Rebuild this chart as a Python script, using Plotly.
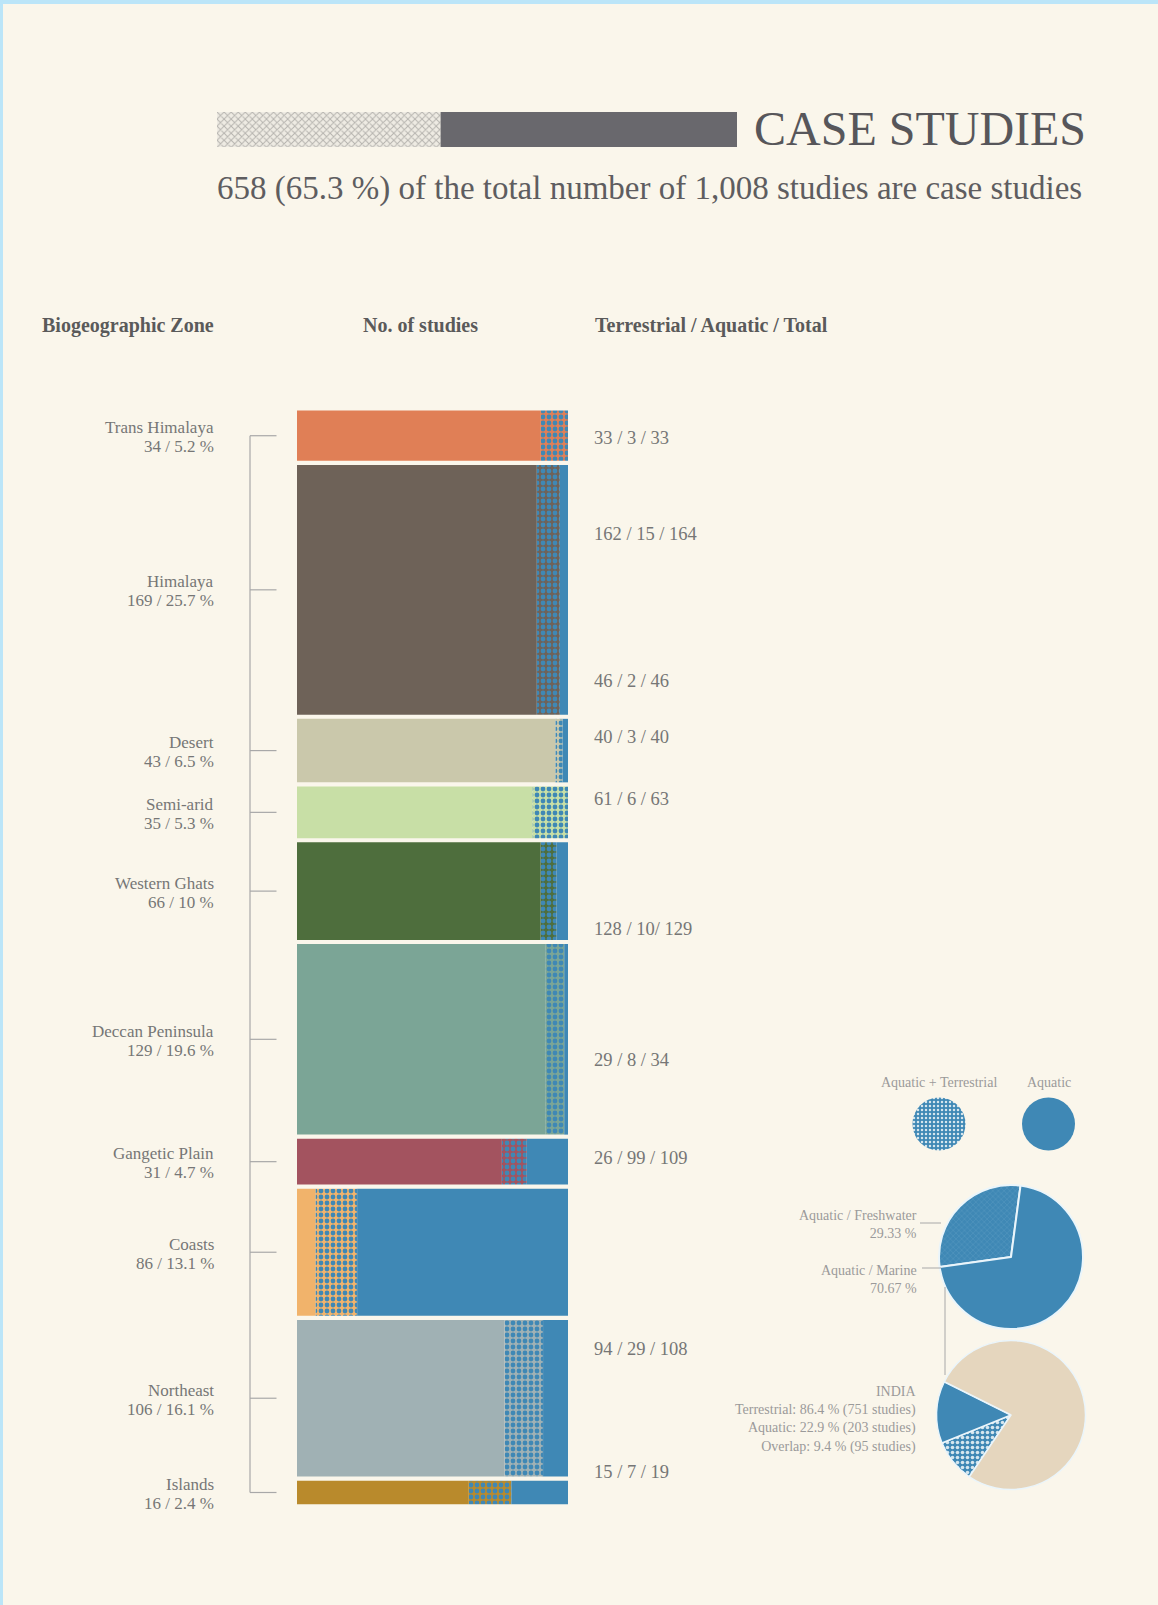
import plotly.graph_objects as go

# ---------------- data ----------------
zones = ["Trans Himalaya", "Himalaya", "Desert", "Semi-arid", "Western Ghats",
         "Deccan Peninsula", "Gangetic Plain", "Coasts", "Northeast", "Islands"]
counts = [34, 169, 43, 35, 66, 129, 31, 86, 106, 16]
percents = ["5.2", "25.7", "6.5", "5.3", "10", "19.6", "4.7", "13.1", "16.1", "2.4"]

# share of each bar: terrestrial only / overlap (aquatic + terrestrial) / aquatic only
terr_share = [0.90, 0.885, 0.954, 0.87, 0.898, 0.916, 0.756, 0.069, 0.766, 0.634]
overlap_share = [0.10, 0.085, 0.026, 0.13, 0.060, 0.070, 0.092, 0.153, 0.142, 0.157]
aquatic_share = [0.00, 0.030, 0.020, 0.00, 0.042, 0.014, 0.152, 0.778, 0.092, 0.209]

zone_colors = ["#E07F56", "#6E6258", "#CAC8AB", "#C8DFA6", "#4E6E3D",
               "#7BA596", "#A3535F", "#F1B36B", "#A0B1B4", "#B98A2C"]

right_labels = ["33 / 3 / 33", "162 / 15 / 164", "46 / 2 / 46", "40 / 3 / 40",
                "61 / 6 / 63", "128 / 10/ 129", "29 / 8 / 34", "26 / 99 / 109",
                "94 / 29 / 108", "15 / 7 / 19"]

aquatic_pie_labels = ["Aquatic / Freshwater", "Aquatic / Marine"]
aquatic_pie_values = [29.33, 70.67]

india_terrestrial_pct = 86.4
india_aquatic_pct = 22.9
india_overlap_pct = 9.4
india_studies = {"Terrestrial": 751, "Aquatic": 203, "Overlap": 95}

header_segments = [0.43, 0.57]  # hatched / solid header band

total_studies = 1008
case_studies = 658

# ---------------- layout constants ----------------
W, H = 1158, 1605
BG = "#FAF6EB"
BLUE = "#3F88B5"
TXT = "#767676"
FONT = "Liberation Serif, DejaVu Serif, serif"

PX_PER_STUDY = 1.4776
TOP_PX = 410.6
GAP = 2.8
BAR_L_PX, BAR_W_PX = 297.0, 271.0

# right label positions (study units along the bar axis)
right_label_y = [18.7, 83.2, 182.9, 221.0, 262.6, 350.6, 439.3, 505.8, 635.4, 718.6]


def px(x):
    return x / W


def py(y):
    return 1 - y / H


centers = []
top = 0.0
for c in counts:
    centers.append(top + c / 2)
    top += c + GAP

n = len(zones)
base_overlap = [terr_share[i] for i in range(n)]
base_aq = [terr_share[i] + overlap_share[i] for i in range(n)]

fig = go.Figure()

# terrestrial
fig.add_trace(go.Bar(orientation="h", y=centers, x=terr_share, base=[0] * n, width=counts,
                     marker=dict(color=zone_colors, line=dict(width=0)),
                     hoverinfo="skip", showlegend=False))
# overlap (dotted)
fig.add_trace(go.Bar(orientation="h", y=centers, x=overlap_share, base=base_overlap, width=counts,
                     marker=dict(color=BLUE, line=dict(width=0),
                                 pattern=dict(shape=".", fgcolor=BLUE, bgcolor=zone_colors,
                                              size=6, solidity=0.5, fillmode="replace")),
                     hoverinfo="skip", showlegend=False))
# aquatic
fig.add_trace(go.Bar(orientation="h", y=centers, x=aquatic_share, base=base_aq, width=counts,
                     marker=dict(color=BLUE, line=dict(width=0)),
                     hoverinfo="skip", showlegend=False))

# bracket
bx = (250 - BAR_L_PX) / BAR_W_PX
tx = (276.5 - BAR_L_PX) / BAR_W_PX
fig.add_trace(go.Scatter(x=[bx, bx], y=[centers[0], centers[-1]], mode="lines",
                         line=dict(color="#a8a8a8", width=1.2), hoverinfo="skip", showlegend=False))
tick_x, tick_y = [], []
for c in centers:
    tick_x += [bx, tx, None]
    tick_y += [c, c, None]
fig.add_trace(go.Scatter(x=tick_x, y=tick_y, mode="lines",
                         line=dict(color="#a8a8a8", width=1.2), hoverinfo="skip", showlegend=False))

# header band
fig.add_trace(go.Bar(orientation="h", y=[0], x=[header_segments[0]], base=[0], width=[1],
                     marker=dict(color="#B5B3AE", line=dict(width=0),
                                 pattern=dict(shape="x", fgcolor="#B5B3AE", bgcolor="#EEEBE3",
                                              size=5, solidity=0.35, fillmode="replace")),
                     xaxis="x2", yaxis="y2", hoverinfo="skip", showlegend=False))
fig.add_trace(go.Bar(orientation="h", y=[0], x=[header_segments[1]], base=[header_segments[0]], width=[1],
                     marker=dict(color="#69686D", line=dict(width=0)),
                     xaxis="x2", yaxis="y2", hoverinfo="skip", showlegend=False))


# pies
def dom(cx, cy, r):
    return dict(x=[px(cx - r), px(cx + r)], y=[py(cy + r), py(cy - r)])


fig.add_trace(go.Pie(values=[1], domain=dom(939, 1124, 26.5), sort=False, textinfo="none",
                     marker=dict(colors=["#D6E6EE"], line=dict(width=0),
                                 pattern=dict(shape=".", fgcolor="#D6E6EE", bgcolor=BLUE,
                                              size=4, solidity=0.3, fillmode="replace")),
                     hoverinfo="skip", showlegend=False))
fig.add_trace(go.Pie(values=[1], domain=dom(1048.5, 1124, 26.5), sort=False, textinfo="none",
                     marker=dict(colors=[BLUE], line=dict(width=0)),
                     hoverinfo="skip", showlegend=False))
fig.add_trace(go.Pie(labels=aquatic_pie_labels, values=aquatic_pie_values,
                     domain=dom(1011, 1257, 72), sort=False, direction="clockwise", rotation=262,
                     textinfo="none",
                     marker=dict(colors=["#5D9CC3", BLUE], line=dict(color="#EAF5FB", width=2),
                                 pattern=dict(shape=["x", ""], fgcolor="#5D9CC3", bgcolor=BLUE,
                                              size=4, solidity=0.2, fillmode="replace")),
                     hoverinfo="skip", showlegend=False))
india_vals = [india_overlap_pct,
              round(india_aquatic_pct - india_overlap_pct, 1),
              round(india_terrestrial_pct - india_overlap_pct, 1)]
fig.add_trace(go.Pie(labels=["Overlap", "Aquatic", "Terrestrial"], values=india_vals,
                     domain=dom(1011, 1415, 74.5), sort=False, direction="clockwise", rotation=214,
                     textinfo="none",
                     marker=dict(colors=["#D6E6EE", BLUE, "#E5D6BE"], line=dict(color="#EAF5FB", width=1.5),
                                 pattern=dict(shape=[".", "", ""], fgcolor="#D6E6EE",
                                              bgcolor=[BLUE, BLUE, "#E5D6BE"], size=5, solidity=0.4,
                                              fillmode="replace")),
                     hoverinfo="skip", showlegend=False))

# ---------------- annotations ----------------
ann = []
ann.append(dict(x=px(752), y=py(129), xref="paper", yref="paper", xanchor="left", yanchor="middle",
                text="CASE STUDIES", font=dict(family=FONT, size=48, color="#57565A"), showarrow=False))
ann.append(dict(x=px(215), y=py(188), xref="paper", yref="paper", xanchor="left", yanchor="middle",
                text=f"{case_studies} ({case_studies / total_studies * 100:.1f} %) of the total number of "
                     f"{total_studies:,} studies are case studies",
                font=dict(family=FONT, size=33, color="#5E5D60"), showarrow=False))
hdr_font = dict(family=FONT, size=20, color="#5a5a5a")
ann.append(dict(x=px(216), y=py(325), xref="paper", yref="paper", xanchor="right", yanchor="middle",
                text="<b>Biogeographic Zone</b>", font=hdr_font, showarrow=False))
ann.append(dict(x=px(420), y=py(325), xref="paper", yref="paper", xanchor="center", yanchor="middle",
                text="<b>No. of studies</b>", font=hdr_font, showarrow=False))
ann.append(dict(x=px(593), y=py(325), xref="paper", yref="paper", xanchor="left", yanchor="middle",
                text="<b>Terrestrial / Aquatic / Total</b>", font=hdr_font, showarrow=False))

lab_x = (216 - BAR_L_PX) / BAR_W_PX
lab_font = dict(family=FONT, size=17, color=TXT)
for z, c, p, cy in zip(zones, counts, percents, centers):
    ann.append(dict(x=lab_x, y=cy, xref="x", yref="y", xanchor="right", yanchor="middle", yshift=8,
                    text=z, font=lab_font, showarrow=False))
    ann.append(dict(x=lab_x, y=cy, xref="x", yref="y", xanchor="right", yanchor="middle", yshift=-11,
                    text=f"{c} / {p} %", font=lab_font, showarrow=False))

rl_x = (592 - BAR_L_PX) / BAR_W_PX
for t, yv in zip(right_labels, right_label_y):
    ann.append(dict(x=rl_x, y=yv, xref="x", yref="y", xanchor="left", yanchor="middle",
                    text=t, font=dict(family=FONT, size=18.5, color=TXT), showarrow=False))

small = dict(family=FONT, size=14, color="#9a9a9a")
ann.append(dict(x=px(939), y=py(1082), xref="paper", yref="paper", xanchor="center", yanchor="middle",
                text="Aquatic + Terrestrial", font=small, showarrow=False))
ann.append(dict(x=px(1048.5), y=py(1082), xref="paper", yref="paper", xanchor="center", yanchor="middle",
                text="Aquatic", font=small, showarrow=False))
ann.append(dict(x=px(919), y=py(1224), xref="paper", yref="paper", xanchor="right", yanchor="middle",
                text=f"{aquatic_pie_labels[0]}<br>{aquatic_pie_values[0]:.2f} %", align="right",
                font=small, showarrow=False))
ann.append(dict(x=px(919), y=py(1279), xref="paper", yref="paper", xanchor="right", yanchor="middle",
                text=f"{aquatic_pie_labels[1]}<br>{aquatic_pie_values[1]:.2f} %", align="right",
                font=small, showarrow=False))
ann.append(dict(x=px(918), y=py(1419), xref="paper", yref="paper", xanchor="right", yanchor="middle",
                text=(f"INDIA<br>Terrestrial: {india_terrestrial_pct} % ({india_studies['Terrestrial']} studies)"
                      f"<br>Aquatic: {india_aquatic_pct} % ({india_studies['Aquatic']} studies)"
                      f"<br>Overlap: {india_overlap_pct} % ({india_studies['Overlap']} studies)"),
                align="right", font=dict(family=FONT, size=14, color="#9a9a9a"), showarrow=False))

shapes = [
    dict(type="rect", xref="paper", yref="paper", x0=0, x1=1, y0=py(4), y1=1,
         fillcolor="#BBE5F8", line=dict(width=0), layer="below"),
    dict(type="rect", xref="paper", yref="paper", x0=0, x1=px(3), y0=0, y1=1,
         fillcolor="#BBE5F8", line=dict(width=0), layer="below"),
    dict(type="line", xref="paper", yref="paper", x0=px(920), x1=px(941), y0=py(1223), y1=py(1223),
         line=dict(color="#a8a8a8", width=1)),
    dict(type="line", xref="paper", yref="paper", x0=px(922), x1=px(941), y0=py(1268), y1=py(1268),
         line=dict(color="#a8a8a8", width=1)),
    dict(type="line", xref="paper", yref="paper", x0=px(945), x1=px(945), y0=py(1287), y1=py(1375),
         line=dict(color="#a8a8a8", width=1)),
]

x_lo = -BAR_L_PX / BAR_W_PX
x_hi = (W - BAR_L_PX) / BAR_W_PX
y_lo = -TOP_PX / PX_PER_STUDY
y_hi = (H - TOP_PX) / PX_PER_STUDY

axis_off = dict(visible=False, showgrid=False, zeroline=False, fixedrange=True)
fig.update_layout(
    width=W, height=H, autosize=False,
    margin=dict(l=0, r=0, t=0, b=0, pad=0),
    paper_bgcolor=BG, plot_bgcolor="rgba(0,0,0,0)",
    barmode="overlay",
    xaxis=dict(domain=[0, 1], range=[x_lo, x_hi], **axis_off),
    yaxis=dict(domain=[0, 1], range=[y_hi, y_lo], **axis_off),
    xaxis2=dict(domain=[px(217), px(737)], range=[0, 1], anchor="y2", **axis_off),
    yaxis2=dict(domain=[py(147), py(112)], range=[-0.5, 0.5], anchor="x2", **axis_off),
    annotations=ann,
    shapes=shapes,
    font=dict(family=FONT),
)

fig.write_html("out.html", config={"displayModeBar": False},
               post_script="document.body.style.margin='0';")
